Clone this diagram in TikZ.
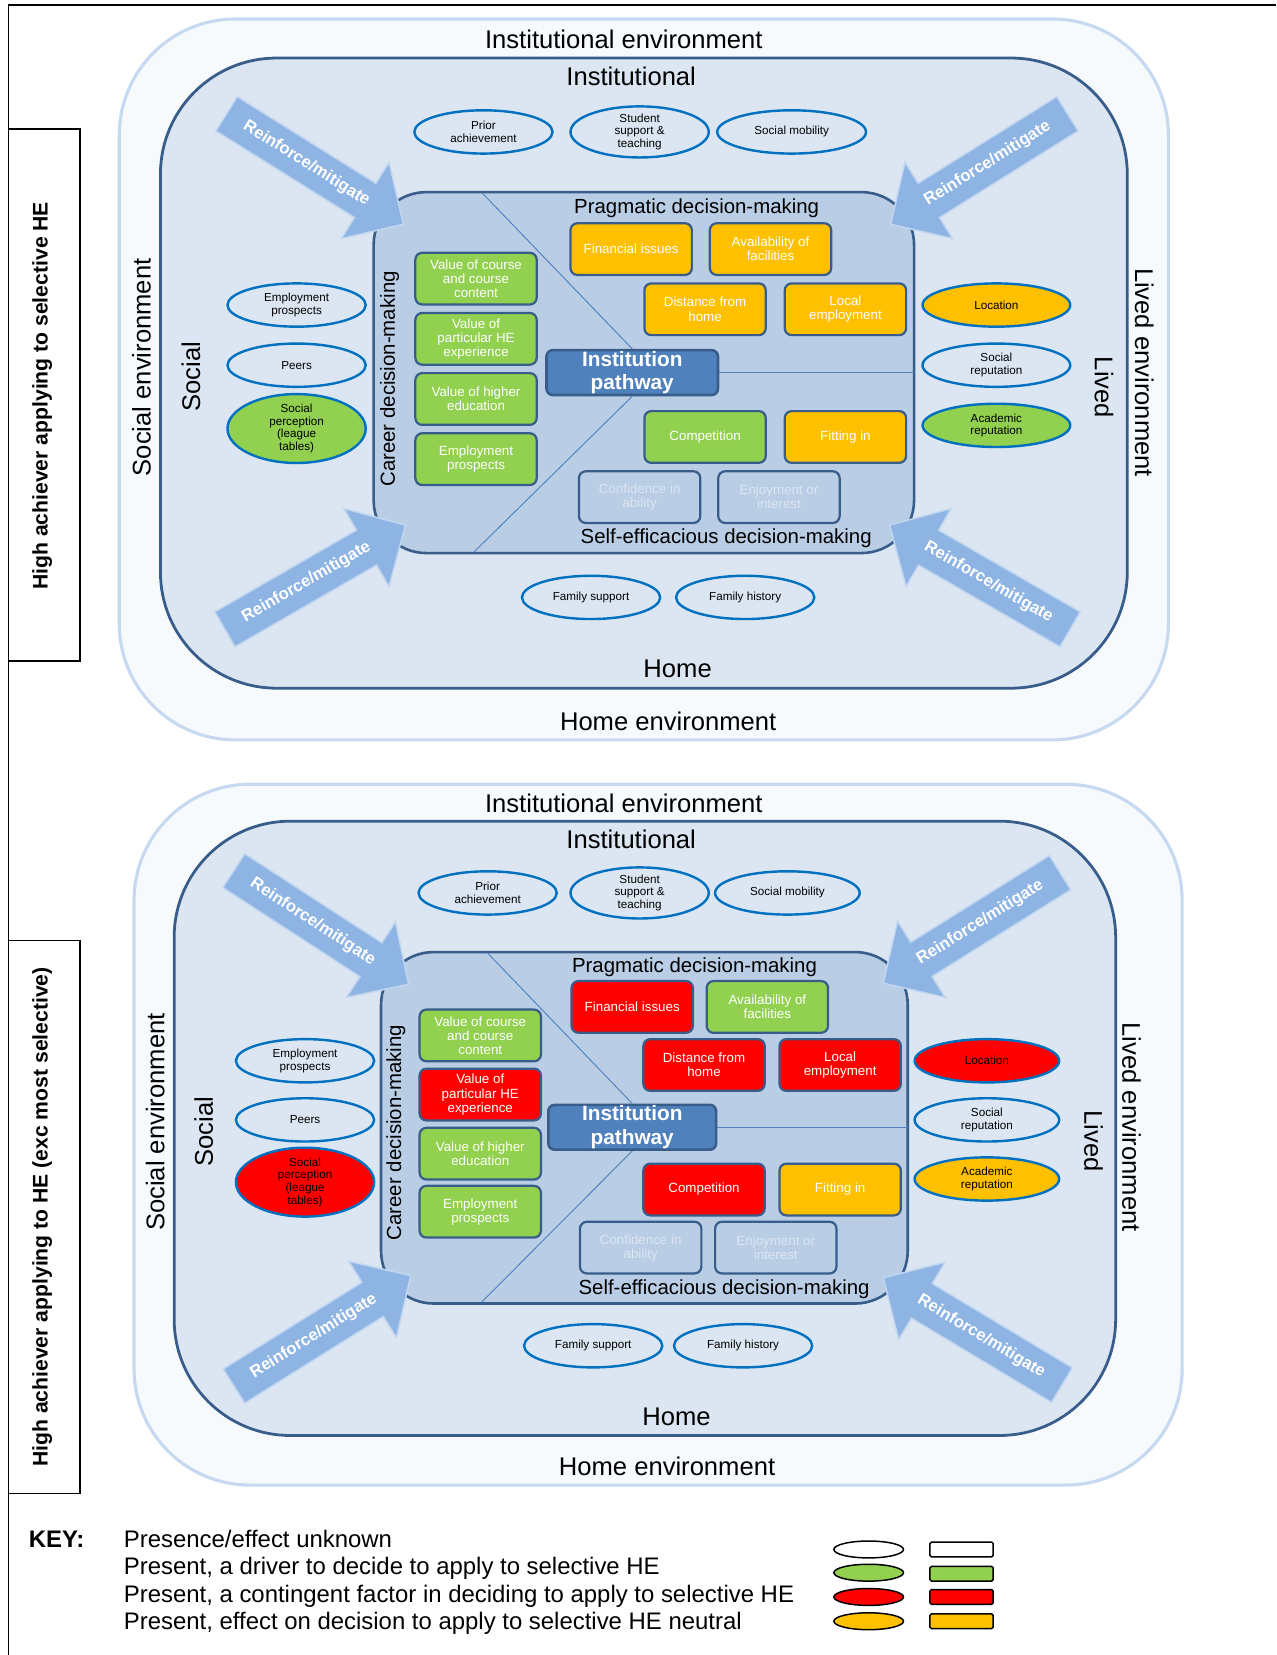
\documentclass[tikz,border=0pt]{standalone}
\usepackage{fontspec}
\setmainfont{Liberation Sans}
\usetikzlibrary{shapes.geometric,shapes.arrows}
\definecolor{envline}{HTML}{C6D9F1}
\definecolor{envfill}{HTML}{F7FAFD}
\definecolor{ctxfill}{HTML}{DCE6F2}
\definecolor{corefill}{HTML}{B9CDE5}
\definecolor{darkline}{HTML}{385D8A}
\definecolor{ellline}{HTML}{0070C0}
\definecolor{pathblue}{HTML}{4F81BD}
\definecolor{arrowblue}{HTML}{8EB4E3}
\definecolor{keygreen}{HTML}{92D050}
\definecolor{keyorange}{HTML}{FFC000}
\definecolor{keyred}{HTML}{FF0000}

\begin{document}
\begin{tikzpicture}[x=0.02cm, y=-0.02cm,
    envbox/.style = {draw=envline, line width=1.7pt, fill=envfill, rounded corners=2.2cm},
    ctxbox/.style = {draw=darkline, line width=1.5pt, fill=ctxfill, rounded corners=2.2cm},
    corebox/.style = {draw=darkline, line width=1.4pt, fill=corefill, rounded corners=1cm},
    coreline/.style = {draw=pathblue, line width=0.5pt},
    factor/.style = {draw=darkline, line width=1.2pt, rounded corners=0.13cm, minimum width=2.3cm,
        minimum height=0.98cm, inner sep=1pt, align=center, text=white, font=\fontsize{7.2}{7.6}\selectfont},
    faded/.style = {text=ctxfill},
    infl/.style = {ellipse, draw=ellline, line width=1.3pt, minimum width=2.62cm, minimum height=0.82cm,
        inner sep=0pt, align=center, font=\fontsize{6.3}{6.8}\selectfont},
    pathbox/.style = {draw=darkline, line width=1.4pt, fill=pathblue, rounded corners=0.12cm, minimum width=3.25cm,
        minimum height=0.85cm, inner sep=0pt, align=center, text=white, font=\bfseries\fontsize{11.2}{12.6}\selectfont},
    biglab/.style = {inner sep=0pt, font=\fontsize{13.8}{15}\selectfont},
    sublab/.style = {inner sep=0pt, font=\fontsize{11}{12}\selectfont},
    sidelab/.style = {inner sep=0pt, rotate=90, font=\bfseries\fontsize{11.4}{12}\selectfont},
    rfarrow/.style = {single arrow, anchor=tip, fill=arrowblue, draw=arrowblue!55!white, line width=0.8pt,
        minimum height=3.95cm, inner ysep=0.22cm, single arrow head extend=0.47cm, text=white,
        font=\bfseries\fontsize{9}{10}\selectfont},
    keytext/.style = {anchor=base west, inner sep=0pt, font=\fontsize{12.9}{14}\selectfont},
    keyell/.style = {ellipse, draw, line width=0.8pt, minimum width=1.32cm, minimum height=0.32cm, inner sep=0pt},
    keyrect/.style = {draw, line width=0.8pt, rounded corners=0.03cm, minimum width=1.2cm, minimum height=0.28cm, inner sep=0pt}]

\useasboundingbox (0,0) rectangle (1209,1568);
\draw[line width=1pt] (1209,5) -- (8,5) -- (8,1568);

% side labels
\draw[line width=1pt] (8,122) rectangle (76,626);
\node[sidelab] (tside) at (40,375) {High achiever applying to selective HE};
\draw[line width=1pt] (8,891) rectangle (76,1415);
\node[sidelab] (bside) at (40,1153) {High achiever applying to HE (exc most selective)};

% ---- top panel ----
\draw[envbox] (113,18) rectangle (1107,701);
\draw[ctxbox] (152,55) rectangle (1068,652);
\draw[corebox] (354,182) rectangle (866,524);

\node[biglab] (tienv) at (591,37) {Institutional environment};
\node[biglab] (thenv) at (633,683) {Home environment};
\node[biglab, rotate=90] (tsenv) at (134,348) {Social environment};
\node[biglab, rotate=-90] (tlenv) at (1084,353) {Lived environment};
\node[biglab] (tinst) at (598,72) {Institutional};
\node[biglab] (thome) at (642,634) {Home};
\node[biglab, rotate=90] (tsoc) at (181,357) {Social};
\node[biglab, rotate=-90] (tlived) at (1046,367) {Lived};

\node[pathbox] (tpath) at (599,353) {Institution\\pathway};
\coordinate (tcA) at (457,183);
\coordinate (tcB) at (449,523);
\coordinate (tcC) at (866,353);
\draw[coreline] (tcA) -- (tpath.north);
\draw[coreline] (tpath.south) -- (tcB);
\draw[coreline] (tpath.east) -- (tcC);

\node[sublab] (tprag) at (660,197) {Pragmatic decision-making};
\node[sublab] (tself) at (688,510) {Self-efficacious decision-making};
\node[sublab, rotate=90] (tcar) at (369,359) {Career decision-making};

\node[factor, fill=keygreen] (tcourse) at (451,264) {Value of course\\and course\\content};
\node[factor, fill=keygreen] (texper) at (451,321) {Value of\\particular HE\\experience};
\node[factor, fill=keygreen] (thigher) at (451,378) {Value of higher\\education};
\node[factor, fill=keygreen] (tjobs) at (451,435) {Employment\\prospects};
\node[factor, fill=keyorange] (tfin) at (598,236) {Financial issues};
\node[factor, fill=keyorange] (tfac) at (730,236) {Availability of\\facilities};
\node[factor, fill=keyorange] (tdist) at (668,293) {Distance from\\home};
\node[factor, fill=keyorange] (tlocal) at (801,293) {Local\\employment};
\node[factor, fill=keygreen] (tcomp) at (668,414) {Competition};
\node[factor, fill=keyorange] (tfit) at (801,414) {Fitting in};
\node[factor, faded] (tconf) at (606,471) {Confidence in\\ability};
\node[factor, faded] (tenjoy) at (738,471) {Enjoyment or\\interest};

\node[infl] (tprior) at (458,125) {Prior\\achievement};
\node[infl] (tsupp) at (606,125) {Student\\support \&\\teaching};
\node[infl, minimum width=2.82cm] (tmob) at (750,125) {Social mobility};
\node[infl] (temp) at (281,289) {Employment\\prospects};
\node[infl] (tpeer) at (281,346) {Peers};
\node[infl, fill=keygreen] (tperc) at (281,406) {Social\\perception\\(league\\tables)};
\node[infl, minimum width=2.8cm, fill=keyorange] (tloc) at (944,289) {Location};
\node[infl, minimum width=2.8cm] (trep) at (944,346) {Social\\reputation};
\node[infl, minimum width=2.8cm, fill=keygreen] (tacad) at (944,403) {Academic\\reputation};
\node[infl] (tfsup) at (560,566) {Family support};
\node[infl] (tfhis) at (706,566) {Family history};

\node[rfarrow, rotate=-32] (tarr1) at (383,213) {Reinforce/mitigate};
\node[rfarrow, rotate=32, shape border rotate=180] (tarr2) at (843,213) {Reinforce/mitigate};
\node[rfarrow, rotate=30] (tarr3) at (385,497) {Reinforce/mitigate};
\node[rfarrow, rotate=-30, shape border rotate=180] (tarr4) at (842,497) {Reinforce/mitigate};

% ---- bottom panel ----
\draw[envbox] (127,743) rectangle (1120,1407);
\draw[ctxbox] (165,778) rectangle (1057,1360);
\draw[corebox] (361,902) rectangle (860,1235);

\node[biglab] (bienv) at (591,761) {Institutional environment};
\node[biglab] (bhenv) at (632,1389) {Home environment};
\node[biglab, rotate=90] (bsenv) at (147,1063) {Social environment};
\node[biglab, rotate=-90] (blenv) at (1072,1068) {Lived environment};
\node[biglab] (binst) at (598,795) {Institutional};
\node[biglab] (bhome) at (641,1342) {Home};
\node[biglab, rotate=90] (bsoc) at (193,1072) {Social};
\node[biglab, rotate=-90] (blived) at (1036,1081) {Lived};

\node[pathbox, minimum width=3.18cm] (bpath) at (599,1068) {Institution\\pathway};
\coordinate (bcA) at (462,903);
\coordinate (bcB) at (456,1234);
\coordinate (bcC) at (860,1068);
\draw[coreline] (bcA) -- (bpath.north);
\draw[coreline] (bpath.south) -- (bcB);
\draw[coreline] (bpath.east) -- (bcC);

\node[sublab] (bprag) at (658,916) {Pragmatic decision-making};
\node[sublab] (bself) at (686,1221) {Self-efficacious decision-making};
\node[sublab, rotate=90] (bcar) at (375,1073) {Career decision-making};

\node[factor, fill=keygreen] (bcourse) at (455,981) {Value of course\\and course\\content};
\node[factor, fill=keyred] (bexper) at (455,1037) {Value of\\particular HE\\experience};
\node[factor, fill=keygreen] (bhigher) at (455,1093) {Value of higher\\education};
\node[factor, fill=keygreen] (bjobs) at (455,1148) {Employment\\prospects};
\node[factor, fill=keyred] (bfin) at (599,954) {Financial issues};
\node[factor, fill=keygreen] (bfac) at (727,954) {Availability of\\facilities};
\node[factor, fill=keyred] (bdist) at (667,1009) {Distance from\\home};
\node[factor, fill=keyred] (blocal) at (796,1009) {Local\\employment};
\node[factor, fill=keyred] (bcomp) at (667,1127) {Competition};
\node[factor, fill=keyorange] (bfit) at (796,1127) {Fitting in};
\node[factor, faded] (bconf) at (607,1182) {Confidence in\\ability};
\node[factor, faded] (benjoy) at (735,1182) {Enjoyment or\\interest};

\node[infl] (bprior) at (462,846) {Prior\\achievement};
\node[infl] (bsupp) at (606,846) {Student\\support \&\\teaching};
\node[infl, minimum width=2.74cm] (bmob) at (746,846) {Social mobility};
\node[infl] (bemp) at (289,1005) {Employment\\prospects};
\node[infl] (bpeer) at (289,1061) {Peers};
\node[infl, fill=keyred] (bperc) at (289,1120) {Social\\perception\\(league\\tables)};
\node[infl, minimum width=2.74cm, fill=keyred] (bloc) at (935,1005) {Location};
\node[infl, minimum width=2.74cm] (brep) at (935,1061) {Social\\reputation};
\node[infl, minimum width=2.74cm, fill=keyorange] (bacad) at (935,1117) {Academic\\reputation};
\node[infl] (bfsup) at (562,1275) {Family support};
\node[infl] (bfhis) at (704,1275) {Family history};

\node[rfarrow, rotate=-33] (barr1) at (388,933) {Reinforce/mitigate};
\node[rfarrow, rotate=32, shape border rotate=180] (barr2) at (836,932) {Reinforce/mitigate};
\node[rfarrow, rotate=32] (barr3) at (390,1208) {Reinforce/mitigate};
\node[rfarrow, rotate=-31, shape border rotate=180] (barr4) at (836,1210) {Reinforce/mitigate};

% key
\node[keytext, font=\bfseries\fontsize{12.9}{14}\selectfont] (key) at (27,1466) {KEY:};
\node[keytext] (k1) at (117,1466) {Presence/effect unknown};
\node[keytext] (k2) at (117,1492) {Present, a driver to decide to apply to selective HE};
\node[keytext] (k3) at (117,1518) {Present, a contingent factor in deciding to apply to selective HE};
\node[keytext] (k4) at (117,1544) {Present, effect on decision to apply to selective HE neutral};
\node[keyell, fill=white] (k1e) at (823,1468) {};
\node[keyell, fill=keygreen] (k2e) at (823,1490) {};
\node[keyell, fill=keyred] (k3e) at (823,1513) {};
\node[keyell, fill=keyorange] (k4e) at (823,1536) {};
\node[keyrect, fill=white] (k1r) at (911,1468) {};
\node[keyrect, fill=keygreen] (k2r) at (911,1491) {};
\node[keyrect, fill=keyred] (k3r) at (911,1513) {};
\node[keyrect, fill=keyorange] (k4r) at (911,1536) {};
\end{tikzpicture}
\end{document}
